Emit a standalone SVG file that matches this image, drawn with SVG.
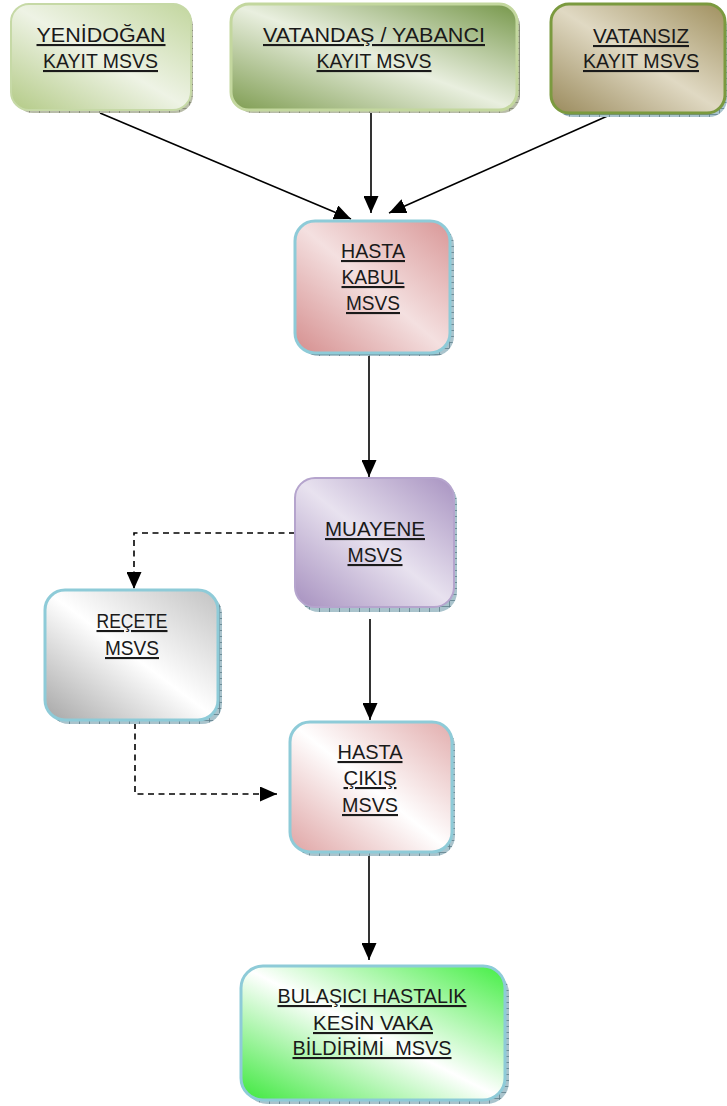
<svg xmlns="http://www.w3.org/2000/svg" width="727" height="1106" viewBox="0 0 727 1106">
<style>
.t{font-family:"Liberation Sans",Arial,sans-serif;font-size:21px;fill:#1a1a1a;text-anchor:middle;text-decoration:underline}
.c{fill:none;stroke:#000;stroke-width:1.6}
.d{fill:none;stroke:#000;stroke-width:1.6;stroke-dasharray:6 4.5}
.sh{fill:url(#hatch)}
.shg{fill:url(#hatchG)}
</style>
<defs>
<pattern id="hatch" width="10" height="6" patternUnits="userSpaceOnUse">
<rect width="10" height="6" fill="#a9c3cc"/>
<path d="M0 0.5 H10 M9.5 0 V6" stroke="#5f7f8a" stroke-width="0.8"/>
</pattern>
<pattern id="hatchG" width="10" height="6" patternUnits="userSpaceOnUse">
<rect width="10" height="6" fill="#b8bca8"/>
<path d="M0 0.5 H10 M9.5 0 V6" stroke="#7d8470" stroke-width="0.8"/>
</pattern>
<marker id="ah" viewBox="0 0 10 10" refX="10" refY="5" markerWidth="17" markerHeight="15" markerUnits="userSpaceOnUse" orient="auto" preserveAspectRatio="none">
<path d="M0 0 L10 5 L0 10 z" fill="#000"/>
</marker>
<linearGradient id="g1" x1="0" y1="1" x2="1" y2="0">
<stop offset="0" stop-color="#b3ca86"/><stop offset="0.5" stop-color="#eef3e5"/><stop offset="1" stop-color="#c2d69e"/>
</linearGradient>
<linearGradient id="g2" x1="0" y1="1" x2="1" y2="0">
<stop offset="0" stop-color="#7f9d52"/><stop offset="0.5" stop-color="#e9efdf"/><stop offset="1" stop-color="#76974a"/>
</linearGradient>
<linearGradient id="g3" x1="0" y1="1" x2="1" y2="0">
<stop offset="0" stop-color="#9a8a5c"/><stop offset="0.5" stop-color="#e0d9c3"/><stop offset="1" stop-color="#a0905f"/>
</linearGradient>
<linearGradient id="g4" x1="0" y1="1" x2="1" y2="0">
<stop offset="0" stop-color="#d58e8e"/><stop offset="0.5" stop-color="#f4e0e0"/><stop offset="1" stop-color="#d99797"/>
</linearGradient>
<linearGradient id="g5" x1="0" y1="1" x2="1" y2="0">
<stop offset="0" stop-color="#a690bf"/><stop offset="0.5" stop-color="#e8e2ef"/><stop offset="1" stop-color="#a893c1"/>
</linearGradient>
<linearGradient id="g6" x1="0" y1="1" x2="1" y2="0">
<stop offset="0" stop-color="#a6a6a6"/><stop offset="0.5" stop-color="#ffffff"/><stop offset="1" stop-color="#c2c2c2"/>
</linearGradient>
<linearGradient id="g7" x1="0" y1="1" x2="1" y2="0">
<stop offset="0" stop-color="#dfa4a4"/><stop offset="0.5" stop-color="#ffffff"/><stop offset="1" stop-color="#e2adad"/>
</linearGradient>
<linearGradient id="g8" x1="0" y1="1" x2="1" y2="0">
<stop offset="0" stop-color="#3de83d"/><stop offset="0.5" stop-color="#ffffff"/><stop offset="1" stop-color="#44ee44"/>
</linearGradient>
</defs>

<g id="connectors">
<line class="c" x1="100" y1="113" x2="351" y2="219" marker-end="url(#ah)"/>
<line class="c" x1="371" y1="112" x2="371" y2="213" marker-end="url(#ah)"/>
<line class="c" x1="612" y1="114" x2="389" y2="213" marker-end="url(#ah)"/>
<line class="c" x1="369" y1="354" x2="369" y2="477" marker-end="url(#ah)"/>
<polyline class="d" points="295,533 134,533 134,589" marker-end="url(#ah)"/>
<polyline class="d" points="135,723 135,794 277,794" marker-end="url(#ah)"/>
<line class="c" x1="370" y1="619" x2="370" y2="720" marker-end="url(#ah)"/>
<line class="c" x1="369" y1="854" x2="369" y2="960" marker-end="url(#ah)"/>
</g>

<g id="yenidogan">
<rect class="shg" x="15" y="8" width="178" height="105" rx="18"/>
<rect x="11" y="4" width="180" height="106" rx="18" fill="url(#g1)" stroke="#c6d9a6" stroke-width="2"/>
<text class="t" x="101" y="42" textLength="129" lengthAdjust="spacingAndGlyphs">YENİDOĞAN</text>
<text class="t" x="100.5" y="68" textLength="115" lengthAdjust="spacingAndGlyphs">KAYIT MSVS</text>
</g>

<g id="vatandas">
<rect class="shg" x="235" y="8" width="285" height="105" rx="18"/>
<rect x="231" y="4" width="286" height="106" rx="18" fill="url(#g2)" stroke="#c3d79e" stroke-width="3"/>
<text class="t" x="374" y="42" textLength="222" lengthAdjust="spacingAndGlyphs">VATANDAŞ / YABANCI</text>
<text class="t" x="374" y="68" textLength="115" lengthAdjust="spacingAndGlyphs">KAYIT MSVS</text>
</g>

<g id="vatansiz">
<rect class="sh" x="555" y="9" width="172" height="108" rx="18"/>
<rect x="551" y="4" width="174" height="109" rx="18" fill="url(#g3)" stroke="#7b9a3f" stroke-width="3"/>
<text class="t" x="641" y="43" textLength="96" lengthAdjust="spacingAndGlyphs">VATANSIZ</text>
<text class="t" x="641" y="68" textLength="116" lengthAdjust="spacingAndGlyphs">KAYIT MSVS</text>
</g>

<g id="hasta-kabul">
<rect class="sh" x="299" y="225" width="155" height="131" rx="20"/>
<rect x="295" y="221" width="155" height="132" rx="20" fill="url(#g4)" stroke="#8ecbd8" stroke-width="3"/>
<text class="t" x="373" y="258" textLength="64" lengthAdjust="spacingAndGlyphs">HASTA</text>
<text class="t" x="373" y="284" textLength="63" lengthAdjust="spacingAndGlyphs">KABUL</text>
<text class="t" x="373" y="310" textLength="54" lengthAdjust="spacingAndGlyphs">MSVS</text>
</g>

<g id="muayene">
<rect class="sh" x="299" y="482" width="158" height="130" rx="20"/>
<rect x="295" y="478" width="159" height="129" rx="20" fill="url(#g5)" stroke="#b5a4cd" stroke-width="2"/>
<text class="t" x="375" y="536" textLength="100" lengthAdjust="spacingAndGlyphs">MUAYENE</text>
<text class="t" x="375" y="562" textLength="55" lengthAdjust="spacingAndGlyphs">MSVS</text>
</g>

<g id="recete">
<rect class="sh" x="49" y="594" width="173" height="130" rx="20"/>
<rect x="45" y="590" width="173" height="130" rx="20" fill="url(#g6)" stroke="#8ecbd8" stroke-width="3"/>
<text class="t" x="132" y="628" textLength="71" lengthAdjust="spacingAndGlyphs">REÇETE</text>
<text class="t" x="132" y="655" textLength="54" lengthAdjust="spacingAndGlyphs">MSVS</text>
</g>

<g id="hasta-cikis">
<rect class="sh" x="294" y="726" width="161" height="130" rx="20"/>
<rect x="290" y="722" width="162" height="130" rx="20" fill="url(#g7)" stroke="#8ecbd8" stroke-width="3"/>
<text class="t" x="370" y="759" textLength="65" lengthAdjust="spacingAndGlyphs">HASTA</text>
<text class="t" x="370" y="785" textLength="53" lengthAdjust="spacingAndGlyphs">ÇIKIŞ</text>
<text class="t" x="370" y="812" textLength="56" lengthAdjust="spacingAndGlyphs">MSVS</text>
</g>

<g id="bulasici">
<rect class="sh" x="245" y="971" width="264" height="133" rx="22"/>
<rect x="241" y="966" width="264" height="134" rx="22" fill="url(#g8)" stroke="#8ecbd8" stroke-width="3"/>
<text class="t" x="372" y="1003" textLength="189" lengthAdjust="spacingAndGlyphs">BULAŞICI HASTALIK</text>
<text class="t" x="373" y="1030" textLength="120" lengthAdjust="spacingAndGlyphs">KESİN VAKA</text>
<text class="t" x="372" y="1055" textLength="159" lengthAdjust="spacingAndGlyphs" xml:space="preserve">BİLDİRİMİ  MSVS</text>
</g>
</svg>
